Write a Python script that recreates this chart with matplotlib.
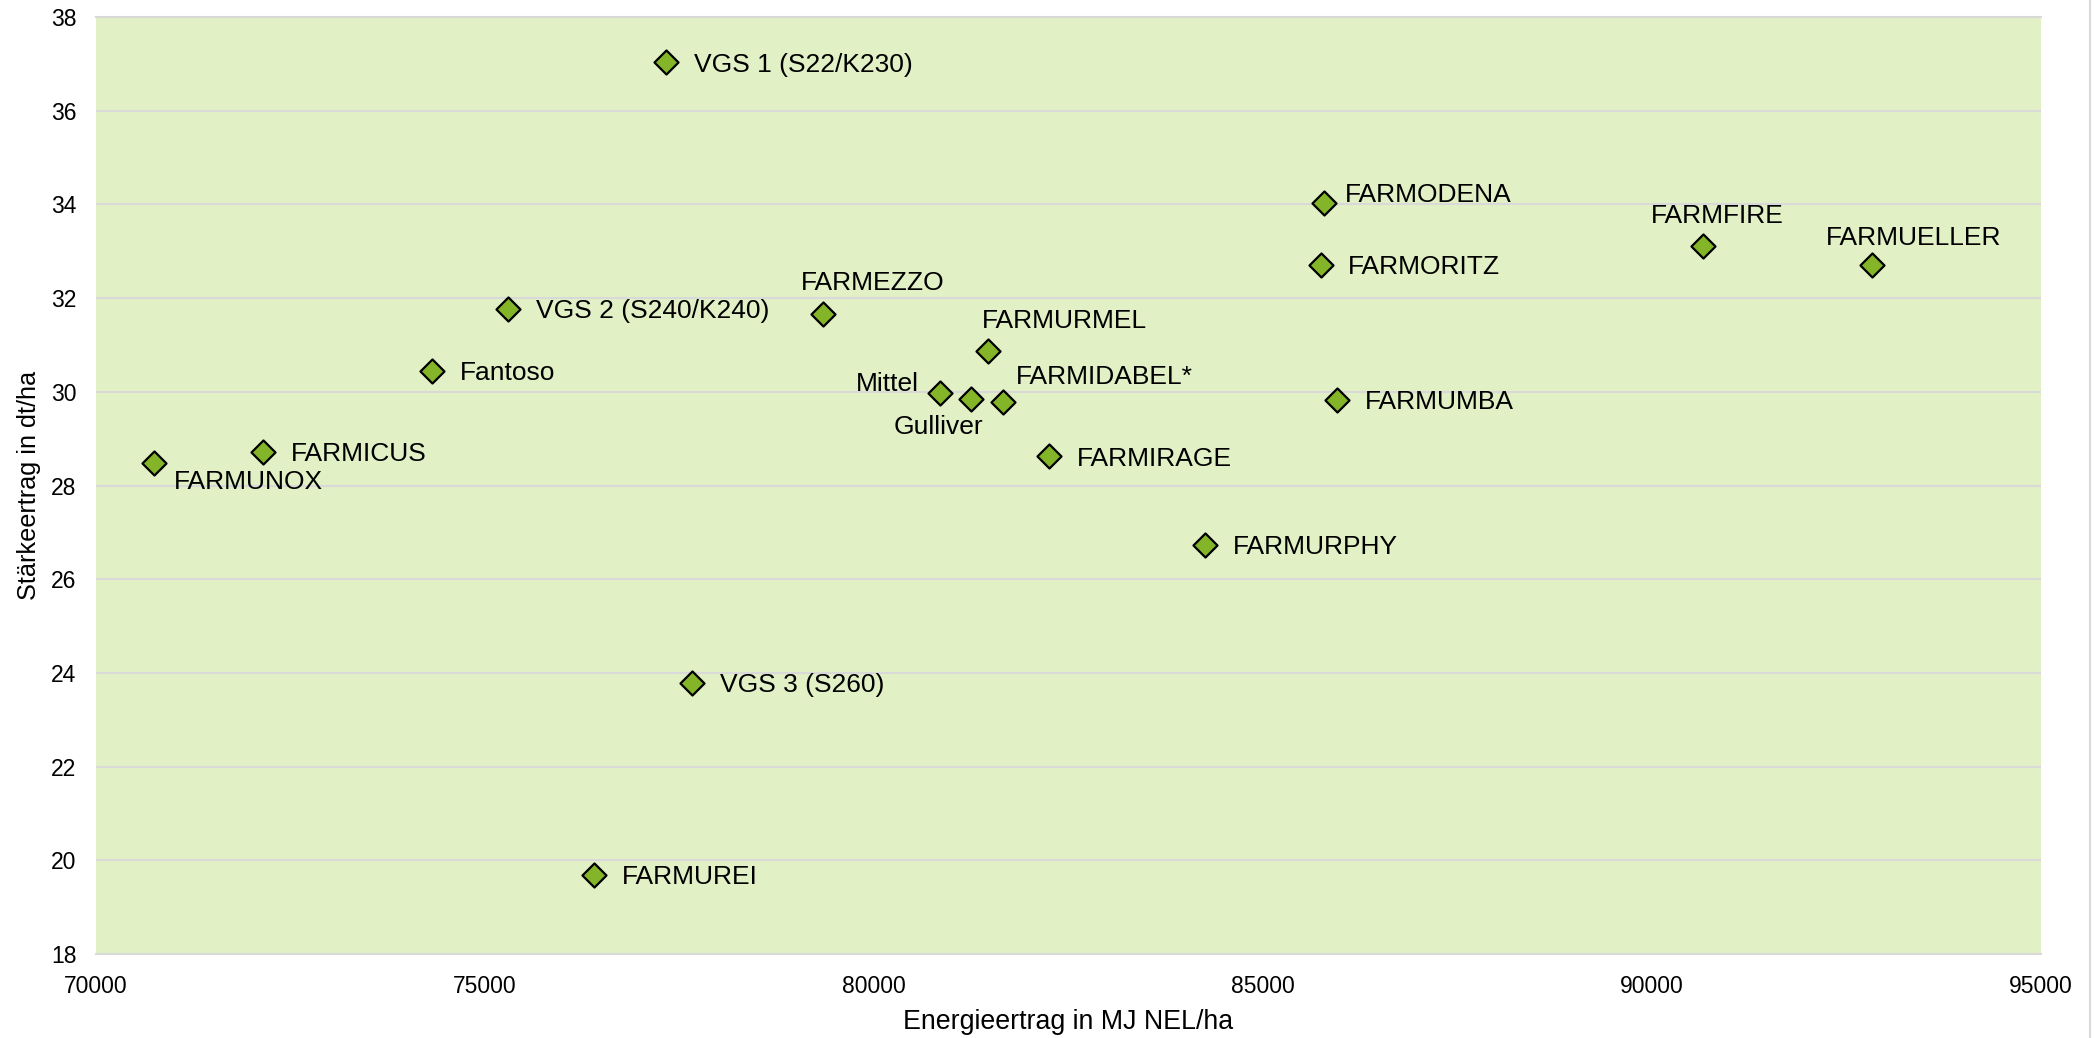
import matplotlib
matplotlib.use("Agg")
import matplotlib.pyplot as plt
from matplotlib.lines import Line2D

plt.rcParams['font.family'] = ['Liberation Sans', 'DejaVu Sans']

# data
names = ["VGS 1 (S22/K230)", "FARMODENA", "FARMFIRE", "FARMUELLER", "FARMORITZ",
         "VGS 2 (S240/K240)", "FARMEZZO", "FARMURMEL", "Fantoso", "Mittel",
         "Gulliver", "FARMIDABEL*", "FARMUMBA", "FARMICUS", "FARMUNOX",
         "FARMIRAGE", "FARMURPHY", "VGS 3 (S260)", "FARMUREI"]
energie = [77330, 85780, 90660, 92830, 85740,
           75300, 79340, 81470, 74320, 80850,
           81245, 81660, 85950, 72150, 70740,
           82250, 84250, 77660, 76400]
staerke = [37.03, 34.03, 33.11, 32.70, 32.71,
           31.76, 31.66, 30.87, 30.45, 29.98,
           29.85, 29.79, 29.82, 28.71, 28.49,
           28.62, 26.73, 23.79, 19.68]

x_ticks = [70000, 75000, 80000, 85000, 90000, 95000]
y_ticks = [18, 20, 22, 24, 26, 28, 30, 32, 34, 36, 38]

# label placement (dx, dy in points, horizontal alignment)
label_pos = {
    "FARMODENA": (15, 6, "left"),
    "FARMFIRE": (10, 22, "center"),
    "FARMUELLER": (30, 20, "center"),
    "FARMEZZO": (36, 22, "center"),
    "FARMURMEL": (55, 22, "center"),
    "Mittel": (-15, 6, "right"),
    "Gulliver": (-23, -20, "center"),
    "FARMIDABEL*": (9, 18, "left"),
    "FARMUNOX": (15, -14, "left"),
}

fig = plt.figure(figsize=(20.99, 10.38), dpi=100)
ax = fig.add_axes([0.0457, 0.0809, 0.9267, 0.9027])
ax.set_facecolor("#E2F0C6")

ax.scatter(energie, staerke, marker="D", s=150, color="#84B428",
           edgecolor="black", linewidth=1.6, zorder=3)

for n, xv, yv in zip(names, energie, staerke):
    dx, dy, ha = label_pos.get(n, (20, -1.5, "left"))
    ax.annotate(n, (xv, yv), xytext=(dx, dy), textcoords="offset points",
                ha=ha, va="center", fontsize=19, color="black", zorder=4)

ax.set_xlim(70000, 95000)
ax.set_ylim(18, 38)
ax.set_xticks(x_ticks)
ax.set_yticks(y_ticks)
ax.tick_params(axis="both", length=0, labelsize=16.5, colors="black")
ax.tick_params(axis="y", pad=14)
ax.tick_params(axis="x", pad=15)

ax.grid(axis="y", color="#D9D9D9", linewidth=1.5)
ax.set_axisbelow(True)
for s in ["left", "right"]:
    ax.spines[s].set_visible(False)
for s in ["top", "bottom"]:
    ax.spines[s].set_color("#D9D9D9")
    ax.spines[s].set_linewidth(1.5)

ax.set_xlabel("Energieertrag in MJ NEL/ha", fontsize=19.3, labelpad=8)
ax.set_ylabel("Stärkeertrag in dt/ha", fontsize=18.2, labelpad=7)

fig.add_artist(Line2D([0.9957, 0.9957], [0, 1], color="#D9D9D9", linewidth=1.5))

fig.savefig("out.png", dpi=100)
